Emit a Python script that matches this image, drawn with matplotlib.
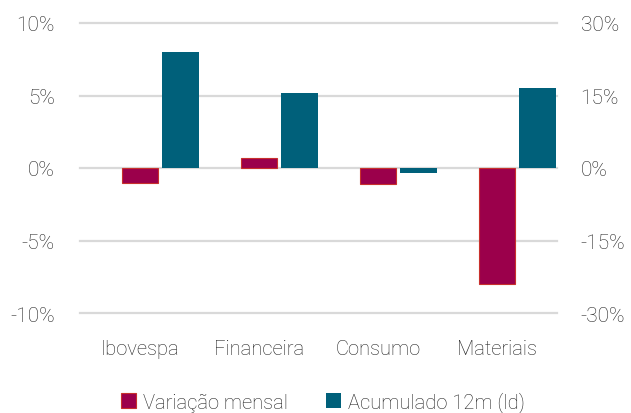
import numpy as np
import matplotlib.pyplot as plt
from matplotlib.ticker import FuncFormatter

categories = ["Ibovespa", "Financeira", "Consumo", "Materiais"]
variacao_mensal = [-1.0, 0.7, -1.1, -8.0]
acumulado_12m = [24.0, 15.5, -1.0, 16.6]

red = "#9B004B"
teal = "#00607A"
txt = "#222222"

plt.rcParams["font.family"] = ["Roboto", "DejaVu Sans"]
plt.rcParams["font.weight"] = "light"

fig = plt.figure(figsize=(6.31, 4.14), dpi=100)
ax = fig.add_axes([80 / 631, 1 - 314 / 414, 477 / 631, 290 / 414])
ax2 = ax.twinx()

x = np.arange(len(categories))
b1 = ax.bar(x, variacao_mensal, width=0.30, color=red, edgecolor="#C8302C", linewidth=0.8, zorder=3,
            label="Variação mensal")
b2 = ax2.bar(x + 0.34, acumulado_12m, width=0.31, color=teal, linewidth=0, zorder=3,
             label="Acumulado 12m (ld)")

ax.set_xlim(-0.5, 3.5)
ax.set_ylim(-10, 10)
ax2.set_ylim(-30, 30)
ax.set_yticks([-10, -5, 0, 5, 10])
ax2.set_yticks([-30, -15, 0, 15, 30])
ax.yaxis.set_major_formatter(FuncFormatter(lambda v, p: f"{v:.0f}%"))
ax2.yaxis.set_major_formatter(FuncFormatter(lambda v, p: f"{v:.0f}%"))
ax.set_xticks(x)
ax.set_xticklabels(categories)

ax.yaxis.grid(True, color="#D9D9D9", linewidth=1.6)
ax.set_axisbelow(True)
for gl in ax.get_ygridlines():
    gl.set_clip_on(False)

for a in (ax, ax2):
    for s in a.spines.values():
        s.set_visible(False)
    a.tick_params(length=0, labelsize=15, labelcolor=txt)
ax.tick_params(axis="x", labelsize=14.5, pad=19)
ax.tick_params(axis="y", pad=18)
ax2.tick_params(axis="y", pad=17)

ax2.set_zorder(ax.get_zorder() + 1)
ax2.patch.set_visible(False)

fig.legend(handles=[b1, b2], loc="center", bbox_to_anchor=(323 / 631, 1 - 403 / 414), ncol=2,
           frameon=False, fontsize=14.5, labelcolor=txt, handlelength=0.75, handleheight=0.75,
           handletextpad=0.35, columnspacing=1.9)

fig.savefig("out.png", dpi=100)
